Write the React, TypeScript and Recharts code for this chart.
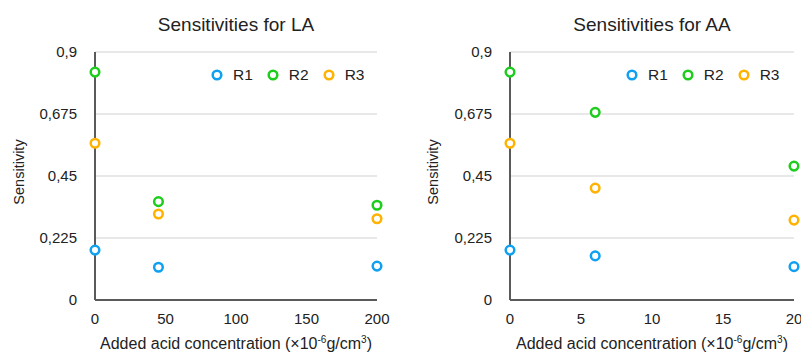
import {
  ScatterChart,
  Scatter,
  XAxis,
  YAxis,
  CartesianGrid,
  Legend,
} from "recharts";

const laConc = [0, 45, 200];
const laR1 = [0.181, 0.119, 0.123];
const laR2 = [0.827, 0.357, 0.344];
const laR3 = [0.569, 0.312, 0.295];

const aaConc = [0, 6, 20];
const aaR1 = [0.181, 0.16, 0.121];
const aaR2 = [0.827, 0.681, 0.486];
const aaR3 = [0.569, 0.406, 0.29];

const seriesNames = ["R1", "R2", "R3"];
const yTicks = [0, 0.225, 0.45, 0.675, 0.9];
const laTicks = [0, 50, 100, 150, 200];
const aaTicks = [0, 5, 10, 15, 20];

const COLORS = ["#0fa0f2", "#1ccd1c", "#ffb300"];
const FONT = '"Liberation Sans", Arial, sans-serif';
const AXIS = "#5a5a5a";
const TEXT = "#222";

const toPoints = (xs: number[], ys: number[]) =>
  xs.map((x, i) => ({ x, y: ys[i] }));

const fmt = (v: number) => String(v).replace(".", ",");

function ring(color: string) {
  return (p: any) => (
    <circle
      cx={p.cx}
      cy={p.cy}
      r={4.3}
      fill="#fff"
      stroke={color}
      strokeWidth={2.5}
    />
  );
}

// tick renderers so that the font size is under our control
const xTick = (p: any) => (
  <text x={p.x} y={p.y} dy="0.71em" textAnchor="middle" fontSize={15} fontFamily={FONT} fill={TEXT}>
    {p.payload.value}
  </text>
);

const yTick = (p: any) => (
  <text x={p.x} y={p.y} dy="0.36em" textAnchor="end" fontSize={15} fontFamily={FONT} fill={TEXT}>
    {fmt(p.payload.value)}
  </text>
);

const xLabel = (p: any) => {
  const vb = p.viewBox;
  return (
    <text
      x={vb.x + vb.width / 2}
      y={vb.y + vb.height - 7}
      textAnchor="middle"
      fontSize={16}
      fontFamily={FONT}
      fill={TEXT}
    >
      Added acid concentration (×10
      <tspan dy={-6} fontSize={10}>-6</tspan>
      <tspan dy={6}>g/cm</tspan>
      <tspan dy={-6} fontSize={10}>3</tspan>
      <tspan dy={6}>)</tspan>
    </text>
  );
};

function legendContent() {
  return (
    <div style={{ display: "flex", alignItems: "center", height: 16, fontFamily: FONT, fontSize: 15.5, color: TEXT }}>
      {seriesNames.map((n, i) => (
        <div key={n} style={{ display: "flex", alignItems: "center", marginRight: 14 }}>
          <svg width={12} height={12} style={{ marginRight: 10 }}>
            <circle cx={6} cy={6} r={4.3} fill="#fff" stroke={COLORS[i]} strokeWidth={2.5} />
          </svg>
          <span>{n}</span>
        </div>
      ))}
    </div>
  );
}

interface PanelProps {
  title: string;
  conc: number[];
  series: number[][];
  xMax: number;
  xTicks: number[];
  left: number;
  width: number;
  yAxisWidth: number;
  marginRight: number;
  labelDx: number;
  legendLeft: number;
}

function Panel(p: PanelProps) {
  const plotCenter = (p.yAxisWidth + (p.width - p.marginRight)) / 2;
  return (
    <div style={{ position: "absolute", left: p.left, top: 0, width: p.width, height: 356 }}>
      <div
        style={{
          position: "absolute",
          top: 13,
          left: plotCenter - 150,
          width: 300,
          textAlign: "center",
          fontFamily: FONT,
          fontSize: 19,
          lineHeight: "24px",
          color: TEXT,
        }}
      >
        {p.title}
      </div>
      <ScatterChart
        width={p.width}
        height={356}
        margin={{ top: 52, right: p.marginRight, left: 0, bottom: 0 }}
      >
        <CartesianGrid horizontal vertical={false} stroke="#d2d2d2" strokeWidth={1.2} />
        <XAxis
          type="number"
          dataKey="x"
          domain={[0, p.xMax]}
          ticks={p.xTicks}
          height={56}
          axisLine={{ stroke: AXIS, strokeWidth: 2 }}
          tickLine={false}
          tickSize={0}
          tickMargin={13}
          tick={xTick}
          label={{ content: xLabel }}
        />
        <YAxis
          type="number"
          dataKey="y"
          domain={[0, 0.9]}
          ticks={yTicks}
          width={p.yAxisWidth}
          axisLine={{ stroke: AXIS, strokeWidth: 2 }}
          tickLine={false}
          tickSize={0}
          tickMargin={18}
          tick={yTick}
          label={{
            value: "Sensitivity",
            angle: -90,
            position: "center",
            dx: p.labelDx,
            dy: -4,
            fill: TEXT,
            fontSize: 14.5,
            fontFamily: FONT,
          }}
        />
        <Legend
          layout="horizontal"
          verticalAlign="middle"
          align="center"
          content={legendContent}
          wrapperStyle={{ top: 67, left: p.legendLeft, width: "auto" }}
        />
        {p.series.map((ys, i) => (
          <Scatter
            key={seriesNames[i]}
            name={seriesNames[i]}
            data={toPoints(p.conc, ys)}
            shape={ring(COLORS[i])}
            isAnimationActive={false}
          />
        ))}
      </ScatterChart>
    </div>
  );
}

export default function App() {
  return (
    <div
      style={{
        position: "absolute",
        left: 0,
        top: 0,
        width: 801,
        height: 356,
        overflow: "hidden",
        background: "#fff",
      }}
    >
      <Panel
        title="Sensitivities for LA"
        conc={laConc}
        series={[laR1, laR2, laR3]}
        xMax={200}
        xTicks={laTicks}
        left={0}
        width={400}
        yAxisWidth={95}
        marginRight={23}
        labelDx={-28.5}
        legendLeft={211}
      />
      <Panel
        title="Sensitivities for AA"
        conc={aaConc}
        series={[aaR1, aaR2, aaR3]}
        xMax={20}
        xTicks={aaTicks}
        left={400}
        width={420}
        yAxisWidth={110}
        marginRight={26}
        labelDx={-22}
        legendLeft={226}
      />
    </div>
  );
}
